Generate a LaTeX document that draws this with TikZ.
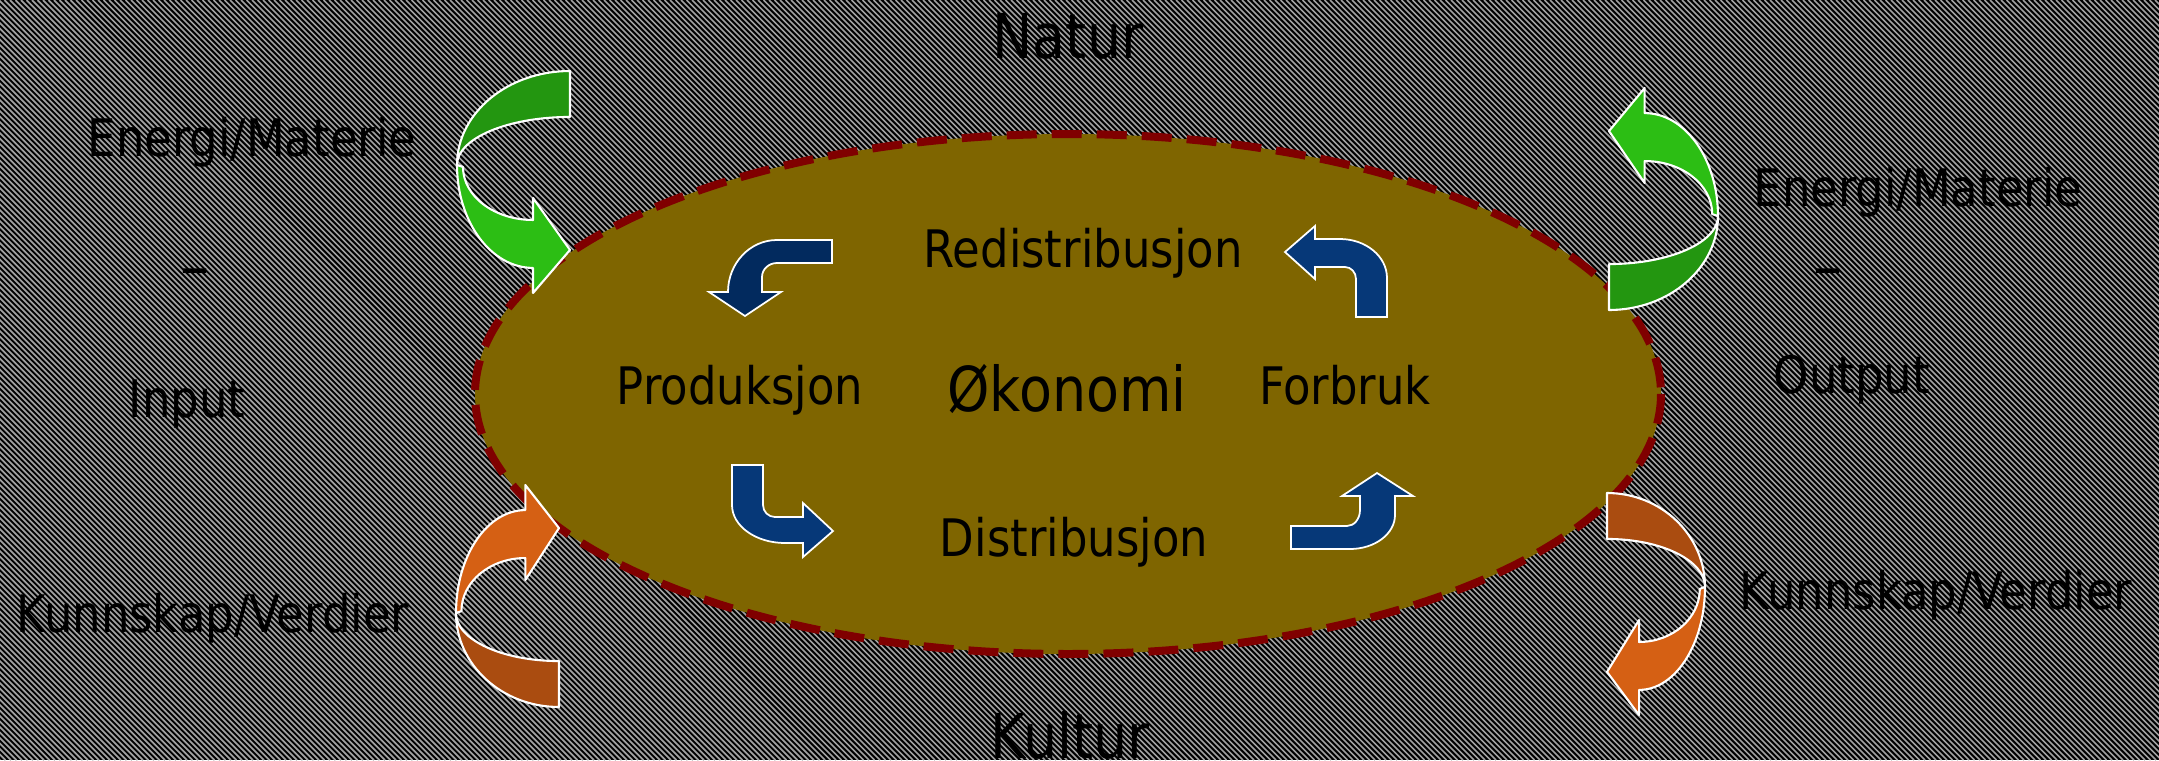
\documentclass[tikz,border=0pt]{standalone}
\usepackage{fontspec}
\setmainfont{DejaVu Sans}[FakeStretch=0.87]
\definecolor{olivebg}{RGB}{127,101,0}
\definecolor{darkredb}{RGB}{128,0,0}
\definecolor{greenD}{RGB}{35,150,16}
\definecolor{greenL}{RGB}{44,190,20}
\definecolor{orangeD}{RGB}{170,76,16}
\definecolor{orangeL}{RGB}{213,96,20}
\definecolor{navyD}{RGB}{2,42,94}
\definecolor{navyL}{RGB}{6,56,120}
\definecolor{stripe}{RGB}{160,160,160}
\newcommand\fsmall{\fontsize{14.7}{17}\selectfont}
\newcommand\fbig{\fontsize{17.6}{20}\selectfont}
\newcommand\fdash{\fontsize{19}{20}\selectfont}
\tikzset{
  lbl/.style={anchor=base, inner sep=0pt, font=\fsmall, text=black},
  biglbl/.style={anchor=base, inner sep=0pt, font=\fbig, text=black},
  dashlbl/.style={anchor=base, inner sep=0pt, font=\fdash, text=black},
  bigarrow/.style={draw=white, line width=0.6pt, line join=round},
  bluearrow/.style={draw=white, line width=0.5pt, line join=miter},
  hatch/.style={draw=stripe, line width=0.5pt},
  ringstyle/.style={fill=olivebg, draw=darkredb, line width=0.08cm, dash pattern=on 0.3cm off 0.15cm}
}
\newcommand\curvarrow[2]{%
  \filldraw[bigarrow, fill=#1] (1,0) arc[start angle=270,end angle=180,x radius=1,y radius=0.423]
     arc[start angle=180,end angle=270,x radius=1,y radius=0.216] -- cycle;
  \filldraw[bigarrow, fill=#2] (0,0.423) arc[start angle=180,end angle=90,x radius=0.673,y radius=0.464]
     -- (0.673,1) -- (1,0.806) -- (0.673,0.572) -- (0.673,0.671)
     arc[start angle=90,end angle=180,x radius=0.62,y radius=0.239] -- cycle;
}
\begin{document}
\begin{tikzpicture}[x=0.01cm, y=-0.01cm]
\useasboundingbox (0,0) rectangle (2159,760);
% background hatch
\fill[black] (0,0) rectangle (2159,760);
\begin{scope}
  \clip (0,0) rectangle (2159,760);
  \foreach \i in {0,...,531} \draw[hatch] ({\i*5.5-760},0) -- ({\i*5.5},760);
\end{scope}
% economy ellipse
\draw[ringstyle] (1068,394) ellipse [x radius=593, y radius=260];
% big curved arrows
\begin{scope}[shift={(457,71)}, xscale=113, yscale=222]
  \curvarrow{greenD}{greenL}
\end{scope}
\begin{scope}[shift={(1718,310)}, xscale=-109, yscale=-222]
  \curvarrow{greenD}{greenL}
\end{scope}
\begin{scope}[shift={(456,707)}, xscale=103, yscale=-222]
  \curvarrow{orangeD}{orangeL}
\end{scope}
\begin{scope}[shift={(1705,493)}, xscale=-98, yscale=222]
  \curvarrow{orangeD}{orangeL}
\end{scope}
% blue turn arrows
\filldraw[bluearrow, fill=navyD] (832,240) -- (777,240)
   arc[start angle=270,end angle=180,x radius=49,y radius=52]
   -- (709,292) -- (745,316) -- (781,292) -- (762,292) -- (762,277)
   arc[start angle=180,end angle=270,x radius=15,y radius=14] -- (832,263) -- cycle;
\filldraw[bluearrow, fill=navyL] (1356,317) -- (1387,317) -- (1387,278)
   arc[start angle=0,end angle=-90,x radius=47,y radius=39]
   -- (1315,239) -- (1315,226) -- (1285,252) -- (1315,279) -- (1315,267) -- (1345,267)
   arc[start angle=-90,end angle=0,x radius=11,y radius=12] -- cycle;
\filldraw[bluearrow, fill=navyL] (732,465) -- (763,465) -- (763,505)
   arc[start angle=180,end angle=90,x radius=12,y radius=12]
   -- (803,517) -- (803,503) -- (833,531) -- (803,557) -- (803,543) -- (785,543)
   arc[start angle=90,end angle=180,x radius=53,y radius=38] -- cycle;
\filldraw[bluearrow, fill=navyL] (1291,526) -- (1347,526)
   arc[start angle=90,end angle=0,x radius=13,y radius=16]
   -- (1360,496) -- (1342,496) -- (1377,473) -- (1413,496) -- (1395,496) -- (1395,515)
   arc[start angle=0,end angle=90,x radius=45,y radius=34] -- (1291,549) -- cycle;
% texts
\node[biglbl] (natur) at (1068,58) {Natur};
\node[biglbl] (kultur) at (1070,758) {Kultur};
\node[lbl] (emL) at (252,156) {Energi/Materie};
\node[dashlbl] (dashL) at (195,289) {–};
\node[lbl] (input) at (187,417) {Input};
\node[lbl] (kvL) at (213,632) {Kunnskap/Verdier};
\node[lbl] (emR) at (1918,206) {Energi/Materie};
\node[dashlbl] (dashR) at (1828,289) {–};
\node[lbl] (output) at (1852,393) {Output};
\node[lbl] (kvR) at (1936,609) {Kunnskap/Verdier};
\node[lbl] (redis) at (1083,267) {Redistribusjon};
\node[lbl] (prod) at (740,404) {Produksjon};
\node[biglbl] (oko) at (1067,411) {Økonomi};
\node[lbl] (forb) at (1345,404) {Forbruk};
\node[lbl] (dist) at (1074,556) {Distribusjon};
\end{tikzpicture}
\end{document}
